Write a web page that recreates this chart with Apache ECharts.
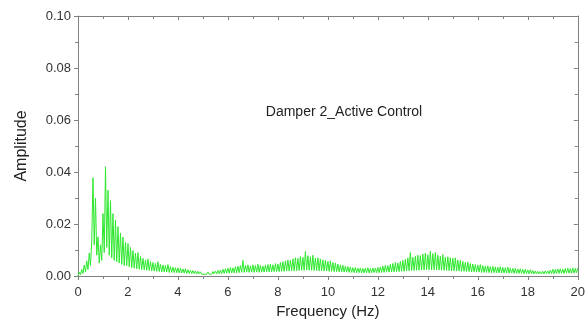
<!DOCTYPE html>
<html>
<head>
<meta charset="utf-8">
<script src="https://cdn.jsdelivr.net/npm/echarts@6/dist/echarts.min.js"></script>
<style>html,body{margin:0;padding:0;background:#fff;}#c{width:588px;height:329px;}</style>
</head>
<body>
<div id="c"></div>
<script>
// Frequency sampling step (Hz) of the amplitude list below
const freqStep = 0.05;
// Amplitude, one value per 0.05 Hz, 0 .. 20 Hz (one row per Hz)
const amplitude = [
0.0000,0.0015,0.0005,0.0025,0.0010,0.0042,0.0015,0.0058,0.0025,0.0088,0.0040,0.0135,0.0378,0.0120,0.0300,0.0080,0.0150,0.0050,0.0120,0.0060,
0.0240,0.0090,0.0420,0.0110,0.0330,0.0080,0.0290,0.0070,0.0240,0.0060,0.0215,0.0055,0.0190,0.0050,0.0165,0.0045,0.0150,0.0040,0.0130,0.0040,
0.0125,0.0035,0.0110,0.0032,0.0098,0.0030,0.0088,0.0028,0.0090,0.0026,0.0075,0.0025,0.0068,0.0024,0.0062,0.0022,0.0066,0.0021,0.0055,0.0020,
0.0052,0.0019,0.0048,0.0018,0.0055,0.0017,0.0045,0.0016,0.0042,0.0016,0.0040,0.0015,0.0044,0.0014,0.0036,0.0014,0.0034,0.0013,0.0032,0.0013,
0.0031,0.0012,0.0030,0.0012,0.0027,0.0011,0.0028,0.0010,0.0024,0.0010,0.0022,0.0009,0.0021,0.0009,0.0019,0.0008,0.0018,0.0008,0.0016,0.0007,
0.0014,0.0007,0.0013,0.0006,0.0015,0.0007,0.0014,0.0007,0.0017,0.0008,0.0019,0.0008,0.0021,0.0009,0.0023,0.0009,0.0026,0.0010,0.0028,0.0011,
0.0030,0.0011,0.0033,0.0012,0.0031,0.0012,0.0036,0.0013,0.0038,0.0013,0.0040,0.0014,0.0060,0.0014,0.0041,0.0015,0.0043,0.0014,0.0039,0.0015,
0.0043,0.0014,0.0040,0.0015,0.0045,0.0014,0.0041,0.0015,0.0038,0.0015,0.0042,0.0016,0.0044,0.0016,0.0046,0.0016,0.0043,0.0017,0.0048,0.0017,
0.0046,0.0017,0.0052,0.0018,0.0055,0.0018,0.0058,0.0019,0.0062,0.0019,0.0060,0.0020,0.0066,0.0020,0.0070,0.0021,0.0068,0.0021,0.0075,0.0022,
0.0072,0.0022,0.0094,0.0023,0.0078,0.0022,0.0074,0.0022,0.0080,0.0021,0.0068,0.0021,0.0070,0.0020,0.0066,0.0020,0.0062,0.0019,0.0060,0.0019,
0.0056,0.0018,0.0058,0.0018,0.0052,0.0017,0.0050,0.0017,0.0046,0.0016,0.0043,0.0016,0.0041,0.0015,0.0038,0.0015,0.0036,0.0014,0.0035,0.0014,
0.0032,0.0013,0.0033,0.0013,0.0030,0.0013,0.0031,0.0012,0.0029,0.0012,0.0030,0.0012,0.0032,0.0012,0.0029,0.0013,0.0031,0.0013,0.0030,0.0013,
0.0033,0.0013,0.0035,0.0014,0.0038,0.0014,0.0041,0.0015,0.0040,0.0015,0.0045,0.0016,0.0048,0.0016,0.0052,0.0017,0.0050,0.0017,0.0056,0.0018,
0.0060,0.0018,0.0064,0.0019,0.0070,0.0020,0.0090,0.0021,0.0072,0.0021,0.0076,0.0022,0.0080,0.0022,0.0078,0.0023,0.0085,0.0023,0.0088,0.0024,
0.0082,0.0024,0.0095,0.0024,0.0086,0.0024,0.0090,0.0023,0.0080,0.0023,0.0076,0.0022,0.0082,0.0022,0.0072,0.0021,0.0074,0.0021,0.0070,0.0020,
0.0068,0.0020,0.0070,0.0019,0.0062,0.0019,0.0060,0.0018,0.0056,0.0018,0.0052,0.0017,0.0054,0.0017,0.0048,0.0016,0.0046,0.0016,0.0044,0.0015,
0.0042,0.0015,0.0044,0.0014,0.0040,0.0014,0.0038,0.0014,0.0039,0.0013,0.0036,0.0013,0.0037,0.0013,0.0035,0.0012,0.0034,0.0012,0.0036,0.0012,
0.0033,0.0012,0.0032,0.0011,0.0034,0.0011,0.0030,0.0011,0.0029,0.0010,0.0030,0.0010,0.0027,0.0010,0.0028,0.0010,0.0025,0.0009,0.0026,0.0009,
0.0023,0.0009,0.0024,0.0009,0.0021,0.0008,0.0019,0.0008,0.0018,0.0008,0.0017,0.0008,0.0018,0.0008,0.0020,0.0009,0.0019,0.0009,0.0023,0.0009,
0.0026,0.0009,0.0025,0.0010,0.0027,0.0010,0.0028,0.0010,0.0026,0.0010,0.0029,0.0011,0.0030,0.0011,0.0028,0.0011,0.0031,0.0011,0.0029,0.0012,
0.0030
];
const xTicks = [0,2,4,6,8,10,12,14,16,18,20];
const yTicks = ['0.00','0.02','0.04','0.06','0.08','0.10'];
const xLabel = 'Frequency (Hz)';
const yLabel = 'Amplitude';
const annotation = 'Damper 2_Active Control';

const points = amplitude.map((v, i) => [+(i * freqStep).toFixed(2), v]);

const font = 'Arial, "Liberation Sans", sans-serif';
const axisCol = '#808080';
const chart = echarts.init(document.getElementById('c'), null, {renderer: 'canvas'});
chart.setOption({
  animation: false,
  backgroundColor: '#ffffff',
  grid: {left: 78, right: 2, top: 16, bottom: 53, containLabel: false},
  xAxis: [{
    type: 'value', min: 0, max: 20, interval: 2, position: 'bottom',
    name: xLabel, nameLocation: 'middle', nameGap: 23,
    nameTextStyle: {fontFamily: font, fontSize: 15, color: '#222'},
    axisLine: {show: true, onZero: false, lineStyle: {color: axisCol, width: 1}},
    axisTick: {show: true, inside: false, length: 4, lineStyle: {color: axisCol}},
    minorTick: {show: true, splitNumber: 2, length: 3, lineStyle: {color: axisCol}},
    axisLabel: {fontFamily: font, fontSize: 13, color: '#333', margin: 10,
      formatter: v => xTicks.includes(v) ? String(v) : ''},
    splitLine: {show: false}
  }, {
    type: 'value', min: 0, max: 20, interval: 2, position: 'top',
    axisLine: {show: true, onZero: false, lineStyle: {color: axisCol, width: 1}},
    axisTick: {show: true, inside: true, length: 4, lineStyle: {color: axisCol}},
    minorTick: {show: true, splitNumber: 2, length: 3, lineStyle: {color: axisCol}},
    axisLabel: {show: false}, splitLine: {show: false}
  }],
  yAxis: [{
    type: 'value', min: 0, max: 0.1, interval: 0.02, position: 'left',
    name: yLabel, nameLocation: 'middle', nameGap: 48, nameRotate: 90,
    nameTextStyle: {fontFamily: font, fontSize: 16, color: '#222'},
    axisLine: {show: true, onZero: false, lineStyle: {color: axisCol, width: 1}},
    axisTick: {show: true, inside: false, length: 4, lineStyle: {color: axisCol}},
    minorTick: {show: true, splitNumber: 2, length: 3, lineStyle: {color: axisCol}},
    axisLabel: {fontFamily: font, fontSize: 13, color: '#333', margin: 7,
      formatter: v => { const s = v.toFixed(2); return yTicks.includes(s) ? s : ''; }},
    splitLine: {show: false}
  }, {
    type: 'value', min: 0, max: 0.1, interval: 0.02, position: 'right',
    axisLine: {show: true, onZero: false, lineStyle: {color: axisCol, width: 1}},
    axisTick: {show: true, inside: true, length: 4, lineStyle: {color: axisCol}},
    minorTick: {show: true, splitNumber: 2, length: 3, lineStyle: {color: axisCol}},
    axisLabel: {show: false}, splitLine: {show: false}
  }],
  graphic: [{
    type: 'text', x: 344, y: 112,
    style: {text: annotation, font: '14px ' + font, fill: '#222', textAlign: 'center', textVerticalAlign: 'middle'}
  }],
  series: [{
    type: 'line', xAxisIndex: 0, yAxisIndex: 0, data: points,
    showSymbol: false, symbol: 'none', smooth: false,
    lineStyle: {color: '#2ee82e', width: 1},
    z: 1
  }]
});
</script>
</body>
</html>
